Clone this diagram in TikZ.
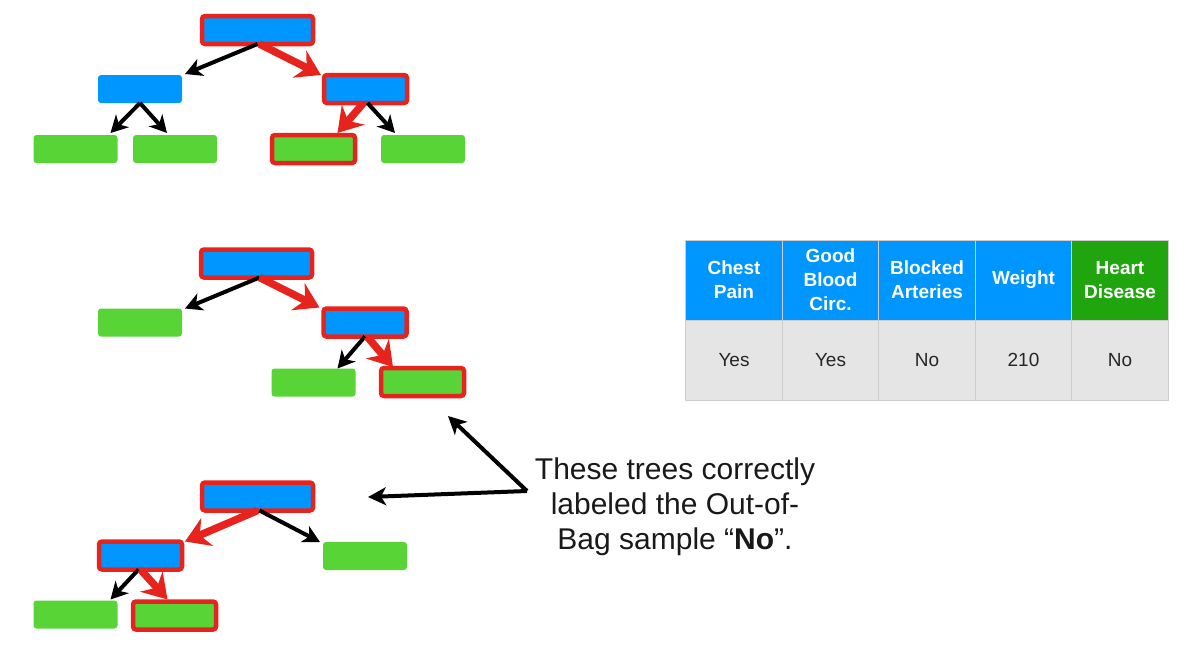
\documentclass[tikz,border=0pt]{standalone}
\usepackage{fontspec}
\setmainfont{Liberation Sans}
\usetikzlibrary{arrows.meta}
\definecolor{nodeblue}{RGB}{0,150,255}
\definecolor{leafgreen}{RGB}{88,212,55}
\definecolor{pathred}{RGB}{231,35,30}
\definecolor{hdgreen}{RGB}{33,165,15}
\definecolor{cellgray}{RGB}{229,229,229}
\definecolor{sepgray}{RGB}{205,205,205}
\begin{document}
\begin{tikzpicture}[x=1pt,y=-1pt,
  box/.style={rectangle, rounded corners=3pt, minimum width=84pt, minimum height=28pt, inner sep=0pt, outer sep=0pt},
  innode/.style={box, fill=nodeblue},
  leaf/.style={box, fill=leafgreen},
  onpath/.style={draw=pathred, line width=4.5pt, minimum width=83pt},
  rootbox/.style={innode, onpath, minimum width=111pt},
  blk/.style={draw=black, line width=4pt, -{Stealth[length=17pt,width=18pt,inset=5pt]}},
  redarr/.style={draw=pathred, line width=7.5pt, -{Stealth[length=24pt,width=30pt,inset=8pt]}},
  callout/.style={draw=black, line width=4pt, -{Stealth[length=18pt,width=18pt,inset=5pt]}},
  cell/.style={rectangle, minimum width=96.5pt, minimum height=80pt, inner sep=0pt, outer sep=0pt, draw=sepgray, line width=0.8pt, align=center},
  head/.style={cell, fill=nodeblue, text=white, font=\fontsize{19}{24}\selectfont\bfseries},
  body/.style={cell, fill=cellgray, text=black!85, font=\fontsize{19}{24}\selectfont},
]
\useasboundingbox (0,0) rectangle (1189,646);

% ---------- Tree 1 ----------
\node[rootbox] (r1) at (257.5,30) {};
\node[innode] (a1) at (140,89) {};
\node[innode,onpath] (b1) at (365.5,89) {};
\node[leaf] (c1) at (75.5,149) {};
\node[leaf] (d1) at (175,149) {};
\node[leaf,onpath] (e1) at (313.5,149) {};
\node[leaf] (f1) at (423,149) {};
\draw[blk] (r1.south) -- ([xshift=3pt,yshift=1pt]a1.north east);
\draw[redarr] ([xshift=2pt]r1.south) -- ([xshift=-3pt,yshift=0pt]b1.north west);
\draw[blk] (a1.south) -- ([xshift=-7pt,yshift=2pt]c1.north east);
\draw[blk] (a1.south) -- ([xshift=-8pt,yshift=2pt]d1.north);
\draw[redarr] ([xshift=-2pt]b1.south) -- ([xshift=24pt,yshift=2pt]e1.north);
\draw[blk] ([xshift=2pt]b1.south) -- ([xshift=14pt,yshift=2pt]f1.north west);

% ---------- Tree 2 ----------
\node[rootbox] (r2) at (256.5,263.5) {};
\node[leaf] (g2) at (140,322.5) {};
\node[innode,onpath] (b2) at (365,322.5) {};
\node[leaf] (c2) at (313.5,382.5) {};
\node[leaf,onpath] (d2) at (422.5,382) {};
\draw[blk] ([xshift=3pt]r2.south) -- ([xshift=3pt]g2.north east);
\draw[redarr] ([xshift=3pt]r2.south) -- ([xshift=-4pt,yshift=1pt]b2.north west);
\draw[blk] (b2.south) -- ([xshift=-18pt]c2.north east);
\draw[redarr] ([xshift=2pt]b2.south) -- ([xshift=12pt,yshift=1pt]d2.north west);

% ---------- Tree 3 ----------
\node[rootbox] (r3) at (257.5,496.5) {};
\node[innode,onpath] (a3) at (140.5,555.5) {};
\node[leaf] (f3) at (365,556) {};
\node[leaf] (c3) at (75.5,614.5) {};
\node[leaf,onpath] (d3) at (174.5,615.5) {};
\draw[redarr] (r3.south) -- ([xshift=3pt,yshift=0pt]a3.north east);
\draw[blk] ([xshift=2pt]r3.south) -- ([xshift=-3pt]f3.north west);
\draw[blk] ([xshift=-2pt]a3.south) -- ([xshift=-7pt,yshift=1pt]c3.north east);
\draw[redarr] (a3.south) -- ([xshift=-7pt,yshift=2pt]d3.north);

% ---------- Callout ----------
\node[align=center, font=\fontsize{30}{35}\selectfont, text=black!90] (txt) at (675,507)
  {These trees correctly\\labeled the Out-of-\\Bag sample “\textbf{No}”.};
\coordinate (v) at (527,491);
\coordinate (t2) at (448,416);
\coordinate (t3) at (368,497);
\draw[callout] (v) -- (t2);
\draw[callout] (v) -- (t3);

% ---------- Table ----------
\node[head] (h1) at (734,280) {Chest\\Pain};
\node[head] (h2) at (830.5,280) {Good\\Blood\\Circ.};
\node[head] (h3) at (927,280) {Blocked\\Arteries};
\node[head] (h4) at (1023.5,280) {Weight};
\node[head, fill=hdgreen] (h5) at (1120,280) {Heart\\Disease};
\node[body] (v1) at (734,360) {Yes};
\node[body] (v2) at (830.5,360) {Yes};
\node[body] (v3) at (927,360) {No};
\node[body] (v4) at (1023.5,360) {210};
\node[body] (v5) at (1120,360) {No};
\end{tikzpicture}
\end{document}
